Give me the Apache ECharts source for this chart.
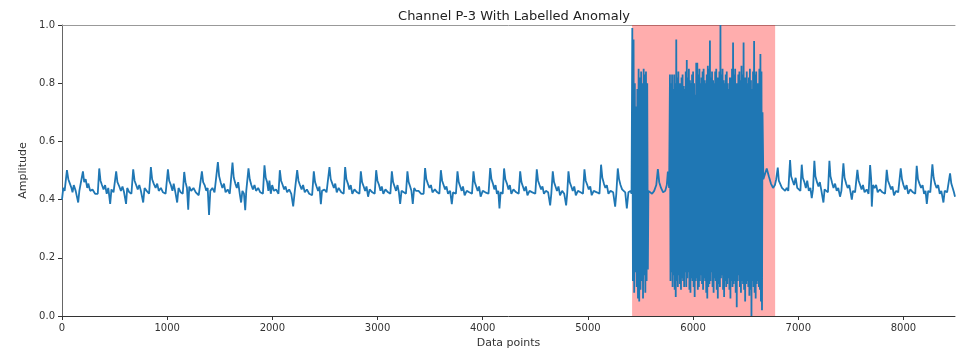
<!DOCTYPE html>
<html lang="en">
<head>
  <meta charset="UTF-8">
  <title>Channel P-3</title>
  <script src="https://cdn.jsdelivr.net/npm/echarts@6/dist/echarts.min.js"></script>
</head>
<style>
    html, body { margin: 0; padding: 0; background: #fff; }
    #main {
        width: 956px;
        height: 354px;
    }
</style>
<body>
<div id="main"></div>
<script>
  const chartTitle = 'Channel P-3 With Labelled Anomaly'
  const xName = 'Data points'
  const yName = 'Amplitude'
  const xRange = [0, 8490]
  const anomalyRange = [5420, 6780]

  // normal signal before the anomaly: [index, amplitude]
  const beforeAnomaly = [
    [0,0.40],[12,0.44],[25,0.43],[47,0.501],[60,0.47],[75,0.455],[90,0.44],[100,0.425],[112,0.45],[130,0.43],[154,0.39],[165,0.43],[184,0.425],
    [199,0.497],[211,0.46],[225,0.47],[240,0.44],[250,0.455],[268,0.43],[290,0.435],[315,0.42],[330,0.425],[340,0.42],
    [354,0.507],[366,0.465],[380,0.45],[395,0.435],[410,0.45],[425,0.42],[440,0.44],[458,0.385],[470,0.435],[490,0.425],[502,0.42],
    [515,0.497],[527,0.46],[545,0.445],[560,0.43],[575,0.445],[590,0.425],[609,0.385],[620,0.44],[640,0.425],[660,0.42],
    [677,0.504],[690,0.465],[705,0.45],[720,0.435],[735,0.45],[750,0.43],[772,0.39],[785,0.44],[805,0.43],[828,0.42],
    [845,0.512],[857,0.47],[872,0.455],[890,0.44],[905,0.455],[920,0.43],[940,0.44],[960,0.425],[985,0.42],
    [1007,0.504],[1019,0.465],[1035,0.45],[1050,0.43],[1062,0.455],[1078,0.425],[1095,0.39],[1108,0.44],[1128,0.425],[1148,0.42],
    [1162,0.495],[1174,0.46],[1188,0.44],[1200,0.365],[1210,0.445],[1228,0.43],[1250,0.44],[1272,0.425],[1300,0.415],[1316,0.42],
    [1330,0.497],[1342,0.46],[1356,0.45],[1372,0.43],[1385,0.44],[1398,0.347],[1410,0.43],[1430,0.44],[1450,0.425],[1468,0.42],
    [1482,0.529],[1494,0.48],[1508,0.46],[1525,0.44],[1540,0.455],[1555,0.425],[1575,0.435],[1595,0.42],[1608,0.425],
    [1621,0.527],[1633,0.475],[1648,0.455],[1662,0.44],[1675,0.46],[1690,0.42],[1703,0.39],[1715,0.43],[1730,0.42],[1742,0.364],[1752,0.43],
    [1773,0.507],[1785,0.47],[1800,0.45],[1815,0.435],[1830,0.45],[1845,0.43],[1865,0.44],[1885,0.425],[1910,0.42],
    [1925,0.518],[1937,0.475],[1950,0.46],[1962,0.43],[1972,0.465],[1985,0.42],[1998,0.45],[2015,0.43],[2035,0.435],[2058,0.42],
    [2071,0.501],[2083,0.465],[2098,0.45],[2112,0.435],[2125,0.445],[2140,0.425],[2160,0.435],[2180,0.42],[2198,0.377],[2212,0.425],[2224,0.42],
    [2236,0.501],[2248,0.465],[2262,0.45],[2278,0.435],[2292,0.45],[2308,0.425],[2328,0.435],[2350,0.42],[2378,0.415],
    [2394,0.497],[2406,0.46],[2420,0.445],[2435,0.43],[2448,0.445],[2461,0.384],[2472,0.43],[2495,0.435],[2515,0.425],[2530,0.42],
    [2543,0.512],[2555,0.47],[2570,0.455],[2585,0.44],[2598,0.455],[2612,0.425],[2630,0.44],[2655,0.425],[2678,0.42],
    [2692,0.512],[2704,0.47],[2718,0.455],[2732,0.435],[2745,0.45],[2760,0.42],[2780,0.435],[2805,0.425],[2828,0.42],
    [2841,0.497],[2853,0.46],[2868,0.445],[2882,0.43],[2895,0.445],[2910,0.41],[2925,0.435],[2950,0.425],[2973,0.42],
    [2987,0.501],[2999,0.465],[3014,0.45],[3028,0.43],[3040,0.445],[3055,0.42],[3075,0.435],[3100,0.425],[3122,0.42],
    [3136,0.497],[3148,0.46],[3162,0.445],[3176,0.43],[3190,0.45],[3203,0.425],[3215,0.385],[3228,0.43],[3250,0.425],[3270,0.42],
    [3284,0.497],[3296,0.46],[3310,0.445],[3322,0.43],[3335,0.385],[3348,0.44],[3365,0.43],[3390,0.43],[3415,0.42],[3438,0.42],
    [3452,0.508],[3464,0.47],[3478,0.455],[3494,0.44],[3508,0.45],[3522,0.425],[3545,0.435],[3568,0.425],[3588,0.42],
    [3602,0.501],[3614,0.465],[3628,0.45],[3642,0.435],[3655,0.445],[3670,0.42],[3690,0.43],[3706,0.384],[3718,0.425],[3745,0.42],
    [3760,0.497],[3772,0.46],[3786,0.445],[3800,0.43],[3812,0.445],[3828,0.415],[3848,0.43],[3872,0.425],[3898,0.42],
    [3912,0.497],[3924,0.46],[3938,0.445],[3952,0.43],[3965,0.445],[3980,0.41],[4000,0.43],[4025,0.425],[4055,0.42],
    [4071,0.508],[4083,0.47],[4097,0.455],[4110,0.435],[4122,0.45],[4135,0.42],[4148,0.43],[4159,0.37],[4170,0.425],[4190,0.42],
    [4203,0.507],[4215,0.47],[4230,0.455],[4245,0.435],[4258,0.45],[4272,0.42],[4292,0.435],[4318,0.425],[4342,0.42],
    [4356,0.497],[4368,0.46],[4382,0.445],[4396,0.43],[4410,0.445],[4425,0.415],[4445,0.43],[4472,0.425],[4500,0.42],
    [4514,0.504],[4526,0.465],[4540,0.45],[4555,0.435],[4568,0.445],[4582,0.42],[4600,0.43],[4622,0.425],[4641,0.38],[4652,0.42],
    [4666,0.497],[4678,0.46],[4692,0.445],[4706,0.43],[4720,0.445],[4735,0.415],[4755,0.43],[4775,0.42],[4793,0.38],[4803,0.42],
    [4815,0.497],[4827,0.46],[4842,0.445],[4856,0.43],[4870,0.445],[4885,0.415],[4905,0.43],[4930,0.425],[4953,0.42],
    [4967,0.504],[4979,0.465],[4994,0.45],[5008,0.435],[5022,0.445],[5036,0.415],[5055,0.43],[5085,0.425],[5110,0.42],
    [5125,0.520],[5137,0.475],[5152,0.455],[5166,0.44],[5180,0.45],[5195,0.42],[5215,0.43],[5240,0.425],[5259,0.376],[5270,0.42],
    [5284,0.507],[5296,0.47],[5310,0.45],[5325,0.435],[5340,0.43],[5355,0.425],[5370,0.37],[5385,0.425],[5405,0.43],[5415,0.42]
  ]

  // first burst inside the labelled window
  const burstOne = [
    [5422,0.99],[5428,0.12],[5434,0.95],[5440,0.08],[5446,0.80],[5452,0.15],[5458,0.72],[5464,0.10],[5470,0.78],[5476,0.06],
    [5482,0.85],[5488,0.05],[5494,0.82],[5500,0.09],[5506,0.84],[5512,0.12],[5518,0.80],[5524,0.06],[5530,0.85],[5536,0.14],
    [5541,0.83],[5546,0.08],[5552,0.84],[5558,0.12],[5564,0.80],[5570,0.16],[5575,0.43]
  ]

  // calm stretch between the bursts
  const betweenBursts = [
    [5590,0.425],[5610,0.42],[5630,0.43],[5650,0.45],[5665,0.505],[5678,0.46],[5695,0.44],
    [5715,0.425],[5735,0.43],[5750,0.45],[5760,0.496],[5772,0.44]
  ]

  // second, long burst
  const burstTwo = [
    [5780,0.83],[5785,0.12],[5790,0.80],[5795,0.15],[5800,0.83],[5805,0.10],[5810,0.78],[5815,0.14],[5820,0.83],[5825,0.09],
    [5830,0.80],[5835,0.065],[5840,0.95],[5845,0.12],[5850,0.82],[5855,0.10],[5860,0.84],[5865,0.14],[5870,0.80],[5875,0.11],
    [5880,0.80],[5885,0.09],[5890,0.82],[5895,0.13],[5900,0.83],[5905,0.12],[5910,0.79],[5915,0.10],[5920,0.78],[5925,0.15],
    [5930,0.84],[5935,0.10],[5940,0.88],[5945,0.13],[5950,0.82],[5955,0.15],[5960,0.85],[5965,0.09],[5970,0.81],[5975,0.08],
    [5980,0.80],[5985,0.13],[5990,0.83],[5995,0.12],[6000,0.84],[6005,0.10],[6010,0.80],[6015,0.065],[6020,0.76],[6025,0.12],
    [6030,0.87],[6035,0.13],[6040,0.87],[6045,0.09],[6050,0.83],[6055,0.10],[6060,0.85],[6065,0.12],[6070,0.80],[6075,0.14],
    [6080,0.82],[6085,0.11],[6090,0.84],[6095,0.09],[6100,0.85],[6105,0.13],[6110,0.81],[6115,0.12],[6120,0.80],[6125,0.08],
    [6130,0.83],[6135,0.06],[6140,0.86],[6145,0.10],[6150,0.85],[6155,0.11],[6160,0.947],[6165,0.12],[6170,0.82],[6175,0.15],
    [6180,0.84],[6185,0.10],[6190,0.81],[6195,0.08],[6200,0.80],[6205,0.13],[6210,0.84],[6215,0.12],[6220,0.85],[6225,0.09],
    [6230,0.82],[6235,0.06],[6240,0.82],[6245,0.11],[6250,0.84],[6255,0.10],[6260,1.0],[6265,0.13],[6270,0.83],[6275,0.14],
    [6280,0.85],[6285,0.09],[6290,0.81],[6295,0.065],[6300,0.80],[6305,0.12],[6310,0.83],[6315,0.10],[6320,0.84],[6325,0.11],
    [6330,0.80],[6335,0.13],[6340,0.78],[6345,0.09],[6350,0.82],[6355,0.06],[6360,0.82],[6365,0.12],[6370,0.85],[6375,0.10],
    [6380,0.94],[6385,0.11],[6390,0.83],[6395,0.12],[6400,0.85],[6405,0.08],[6410,0.80],[6415,0.03],[6420,0.80],[6425,0.12],
    [6430,0.83],[6435,0.14],[6440,0.84],[6445,0.10],[6450,0.81],[6455,0.08],[6460,0.86],[6465,0.12],[6470,0.83],[6475,0.11],
    [6480,0.94],[6485,0.09],[6490,0.82],[6495,0.05],[6500,0.82],[6505,0.11],[6510,0.84],[6515,0.12],[6520,0.80],[6525,0.10],
    [6530,0.82],[6535,0.07],[6540,0.85],[6545,0.09],[6550,0.81],[6555,0.0],[6560,0.78],[6565,0.12],[6570,0.84],[6575,0.10],
    [6580,0.945],[6585,0.08],[6590,0.83],[6595,0.06],[6600,0.84],[6605,0.11],[6610,0.80],[6615,0.12],[6620,0.80],[6625,0.10],
    [6630,0.85],[6635,0.09],[6640,0.90],[6645,0.05],[6650,0.84],[6655,0.02],[6660,0.70],[6668,0.47]
  ]

  // normal signal after the anomaly
  const afterAnomaly = [
    [6700,0.507],[6720,0.48],[6740,0.455],[6760,0.44],[6778,0.45],[6790,0.47],
    [6805,0.51],[6815,0.465],[6830,0.47],[6845,0.44],[6860,0.445],[6875,0.43],[6890,0.44],[6905,0.43],
    [6922,0.536],[6932,0.48],[6945,0.475],[6960,0.45],[6975,0.475],[6990,0.44],[7005,0.445],[7020,0.43],
    [7033,0.52],[7043,0.475],[7058,0.46],[7072,0.44],[7085,0.465],[7100,0.43],[7115,0.44],[7128,0.405],[7140,0.435],
    [7153,0.533],[7163,0.48],[7178,0.46],[7192,0.445],[7205,0.46],[7220,0.43],[7239,0.39],[7250,0.435],[7268,0.43],[7282,0.425],
    [7296,0.533],[7306,0.48],[7320,0.46],[7335,0.44],[7350,0.455],[7365,0.43],[7380,0.44],[7397,0.41],[7410,0.43],
    [7429,0.525],[7440,0.475],[7455,0.455],[7470,0.44],[7485,0.45],[7497,0.425],[7509,0.40],[7520,0.43],[7540,0.425],[7550,0.42],
    [7562,0.502],[7574,0.465],[7588,0.45],[7602,0.435],[7615,0.45],[7630,0.425],[7650,0.435],[7668,0.42],
    [7683,0.519],[7693,0.47],[7699,0.376],[7710,0.45],[7725,0.44],[7740,0.45],[7755,0.425],[7775,0.435],[7800,0.425],[7825,0.42],
    [7841,0.502],[7853,0.465],[7868,0.45],[7882,0.435],[7895,0.445],[7910,0.415],[7930,0.43],[7950,0.425],[7962,0.42],
    [7974,0.507],[7986,0.47],[8000,0.45],[8015,0.435],[8030,0.45],[8045,0.42],[8065,0.435],[8090,0.425],[8112,0.42],
    [8126,0.516],[8138,0.47],[8152,0.455],[8168,0.44],[8182,0.45],[8196,0.42],[8210,0.43],[8222,0.385],[8235,0.43],[8255,0.425],[8265,0.42],
    [8275,0.521],[8287,0.475],[8300,0.455],[8315,0.44],[8330,0.45],[8345,0.42],[8360,0.43],[8380,0.39],[8392,0.43],[8415,0.425],[8430,0.42],
    [8443,0.49],[8455,0.455],[8468,0.44],[8480,0.425],[8490,0.41]
  ]

  const signal = [].concat(beforeAnomaly, burstOne, betweenBursts, burstTwo, afterAnomaly)

  const font = 'DejaVu Sans'
  const chart = echarts.init(document.getElementById('main'))
  chart.setOption({
    animation: false,
    textStyle: { fontFamily: font },
    title: {
      text: chartTitle,
      left: 509,
      top: 5,
      textAlign: 'center',
      textStyle: { fontFamily: font, fontSize: 13, fontWeight: 'normal', color: '#222' }
    },
    grid: { left: 62, right: 1, top: 25, bottom: 38 },
    xAxis: [
      {
        type: 'value',
        min: xRange[0],
        max: xRange[1],
        interval: 1000,
        name: xName,
        nameLocation: 'middle',
        nameGap: 22,
        nameTextStyle: { fontFamily: font, fontSize: 11, color: '#333' },
        splitLine: { show: false },
        axisLine: { lineStyle: { color: '#333', width: 1 } },
        axisTick: { length: 4, lineStyle: { color: '#333' } },
        axisLabel: { fontFamily: font, fontSize: 10, color: '#333', margin: 7, showMaxLabel: false, formatter: v => String(v) }
      },
      {
        // top frame line
        type: 'value',
        position: 'top',
        min: xRange[0],
        max: xRange[1],
        axisLine: { show: true, lineStyle: { color: '#999', width: 1 } },
        axisTick: { show: false },
        axisLabel: { show: false },
        splitLine: { show: false }
      }
    ],
    yAxis: {
      type: 'value',
      min: 0,
      max: 1,
      interval: 0.2,
      name: yName,
      nameLocation: 'middle',
      nameGap: 31,
      nameTextStyle: { fontFamily: font, fontSize: 11, color: '#333' },
      splitLine: { show: false },
      axisLine: { show: true, lineStyle: { color: '#666', width: 1 } },
      axisTick: { show: true, length: 4, lineStyle: { color: '#333' } },
      axisLabel: { fontFamily: font, fontSize: 10, color: '#333', margin: 7, formatter: v => v.toFixed(1) }
    },
    series: [
      {
        type: 'line',
        data: signal,
        showSymbol: false,
        sampling: 'none',
        lineStyle: { color: '#1f77b4', width: 1.8 },
        itemStyle: { color: '#1f77b4' },
        markArea: {
          silent: true,
          itemStyle: { color: 'rgba(255, 0, 0, 0.32)' },
          data: [[{ xAxis: anomalyRange[0] }, { xAxis: anomalyRange[1] }]]
        }
      }
    ]
  })
</script>
</body>
</html>
